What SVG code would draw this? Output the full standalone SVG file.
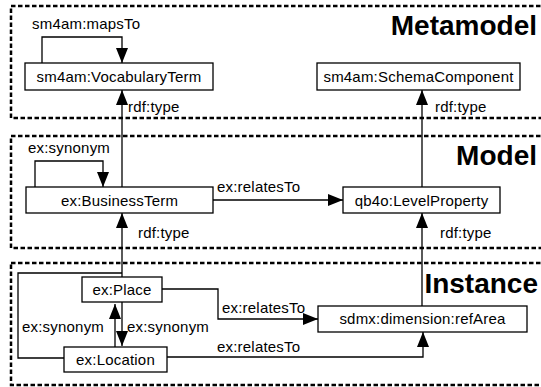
<svg xmlns="http://www.w3.org/2000/svg" width="541" height="387" viewBox="0 0 541 387">
<style>
.layer{fill:none;stroke:#000;stroke-width:2.5;stroke-dasharray:4.5 2.5}
.node rect{fill:#fff;stroke:#000;stroke-width:1.3}
.t{font-family:"Liberation Sans",Arial,sans-serif;font-size:15px;letter-spacing:0.2px;fill:#000}
.c{text-anchor:middle}
.title{font-family:"Liberation Sans",Arial,sans-serif;font-size:28px;font-weight:bold;text-anchor:end;fill:#000}
.conn path{fill:none;stroke:#000;stroke-width:1.3}
</style>
<defs>
<marker id="ah" viewBox="0 0 15 12" refX="15" refY="6" markerWidth="15" markerHeight="12" orient="auto" markerUnits="userSpaceOnUse">
<path d="M0,0 L15,6 L0,12 z" fill="#000"/>
</marker>
</defs>
<rect width="541" height="387" fill="#fff"/>
<g id="layers">
<rect class="layer" x="11" y="6" width="560" height="112"/>
<rect class="layer" x="11" y="136" width="560" height="112"/>
<rect class="layer" x="11" y="263" width="560" height="122"/>
<text class="title" x="537" y="35">Metamodel</text>
<text class="title" x="537" y="165">Model</text>
<text class="title" x="538" y="293">Instance</text>
</g>
<g id="connectors" class="conn">
<path d="M42,63 V37 H122 V63" marker-end="url(#ah)"/>
<path d="M122,187 V90" marker-end="url(#ah)"/>
<path d="M422,187 V90" marker-end="url(#ah)"/>
<path d="M35,187 V161 H103 V187" marker-end="url(#ah)"/>
<path d="M213,200 H343" marker-end="url(#ah)"/>
<path d="M122,277 V213" marker-end="url(#ah)"/>
<path d="M64,358 H18 V273 H122"/>
<path d="M422,306 V213" marker-end="url(#ah)"/>
<path d="M162,289 H218 V319 H318" marker-end="url(#ah)"/>
<path d="M167,357 H423 V332" marker-end="url(#ah)"/>
<path d="M115,347 V304" marker-end="url(#ah)"/>
<path d="M122,302 V346" marker-end="url(#ah)"/>
<text class="t" x="32" y="29">sm4am:mapsTo</text>
<text class="t" x="128" y="112">rdf:type</text>
<text class="t" x="435" y="112">rdf:type</text>
<text class="t" x="28" y="153">ex:synonym</text>
<text class="t" x="217" y="192">ex:relatesTo</text>
<text class="t" x="138" y="238">rdf:type</text>
<text class="t" x="440" y="238">rdf:type</text>
<text class="t" x="22" y="332">ex:synonym</text>
<text class="t" x="127" y="332">ex:synonym</text>
<text class="t" x="222" y="313">ex:relatesTo</text>
<text class="t" x="217" y="352">ex:relatesTo</text>
</g>
<g id="vocabularyTerm" class="node">
<rect x="25" y="63" width="188" height="27"/>
<text class="t c" x="119" y="82">sm4am:VocabularyTerm</text>
</g>
<g id="schemaComponent" class="node">
<rect x="317" y="63" width="203" height="27"/>
<text class="t c" x="418.5" y="82">sm4am:SchemaComponent</text>
</g>
<g id="businessTerm" class="node">
<rect x="26" y="187" width="187" height="26"/>
<text class="t c" x="119.5" y="206">ex:BusinessTerm</text>
</g>
<g id="levelProperty" class="node">
<rect x="343" y="187" width="157" height="26"/>
<text class="t c" x="421.5" y="206">qb4o:LevelProperty</text>
</g>
<g id="place" class="node">
<rect x="82" y="277" width="80" height="25"/>
<text class="t c" x="122" y="295">ex:Place</text>
</g>
<g id="location" class="node">
<rect x="64" y="347" width="103" height="25"/>
<text class="t c" x="115.5" y="365">ex:Location</text>
</g>
<g id="refArea" class="node">
<rect x="318" y="306" width="209" height="26"/>
<text class="t c" x="422.5" y="324">sdmx:dimension:refArea</text>
</g>
</svg>
